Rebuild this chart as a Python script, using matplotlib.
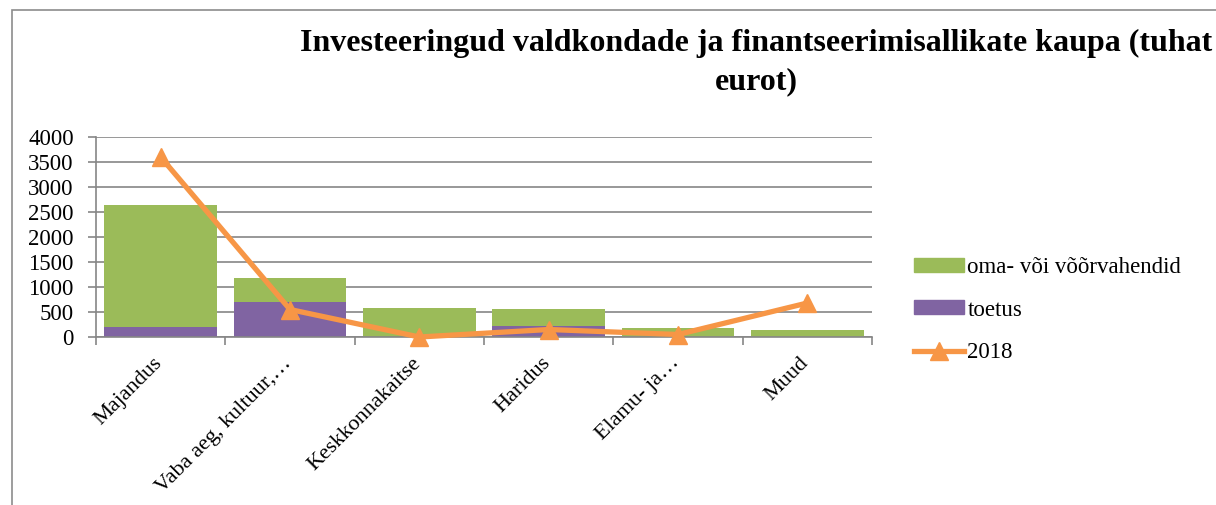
import matplotlib
matplotlib.use('Agg')
import matplotlib.pyplot as plt
import matplotlib.patches as mpatches
import matplotlib.transforms as mtransforms
from matplotlib.lines import Line2D
import numpy as np

categories = ['Majandus', 'Vaba aeg, kultuur,\u2026', 'Keskkonnakaitse', 'Haridus',
              'Elamu- ja\u2026', 'Muud']
toetus = [200, 700, 0, 220, 0, 0]
oma_voi_voor = [2450, 480, 590, 350, 190, 150]
line_2018 = [3600, 550, 0, 150, 50, 680]

green = '#9BBB59'
purple = '#8064A2'
orange = '#F79646'
grid_col = '#868686'

plt.rcParams['font.family'] = ['Liberation Serif', 'DejaVu Serif']

fig = plt.figure(figsize=(12.16, 5.05), dpi=100)

# outer chart frame (cut off at right/bottom like the source)
frame = mpatches.Rectangle((12 / 1216, -0.1), 1.2, (505 - 10) / 505 + 0.1,
                           transform=fig.transFigure, fill=False,
                           edgecolor='#8c8c8c', linewidth=1.2)
fig.patches.append(frame)

ax = fig.add_axes([96 / 1216, (505 - 337) / 505, 776 / 1216, 200 / 505])

x = np.arange(len(categories))
ax.bar(x, toetus, width=0.87, color=purple, label='toetus', zorder=2)
ax.bar(x, oma_voi_voor, width=0.87, bottom=toetus, color=green,
       label='oma- või võõrvahendid', zorder=2)
ax.plot(x, line_2018, color=orange, linewidth=3.8, marker='^', markersize=13,
        label='2018', zorder=3, clip_on=False)

ax.set_xlim(-0.5, len(categories) - 0.5)
ax.set_ylim(0, 4000)
ax.set_yticks(range(0, 4001, 500))
ax.yaxis.grid(True, color=grid_col, linewidth=1.2, zorder=0)
ax.set_axisbelow(True)

for s in ['top', 'right']:
    ax.spines[s].set_visible(False)
for s in ['left', 'bottom']:
    ax.spines[s].set_color(grid_col)
    ax.spines[s].set_linewidth(1.2)

ax.tick_params(axis='y', length=6, color=grid_col, width=1.2, labelsize=16.5, pad=10)
ax.set_xticks(x)
ax.set_xticklabels(categories, rotation=45, ha='right', rotation_mode='anchor',
                   fontsize=16)
ax.tick_params(axis='x', which='major', length=0, pad=12)
ax.set_xticks(np.arange(-0.5, len(categories), 1.0), minor=True)
ax.tick_params(axis='x', which='minor', length=6, color=grid_col, width=1.2)
offset = mtransforms.ScaledTranslation(-0.08, 0, fig.dpi_scale_trans)
for lab in ax.get_xticklabels():
    lab.set_transform(lab.get_transform() + offset)

fig.text(756 / 1216, 1 - 29 / 505,
         'Investeeringud valdkondade ja finantseerimisallikate kaupa (tuhat\neurot)',
         ha='center', va='top', fontsize=23, fontweight='bold', linespacing=1.4)

handles = [mpatches.Patch(color=green), mpatches.Patch(color=purple),
           Line2D([0], [0], color=orange, linewidth=3.8, marker='^', markersize=13)]
labels = ['oma- või võõrvahendid', 'toetus', '2018']
fig.legend(handles, labels, loc='center left', bbox_to_anchor=(893 / 1216, 1 - 310 / 505),
           frameon=False, fontsize=16.5, handlelength=2.2, handleheight=0.55,
           labelspacing=0.95, handletextpad=0.15)

fig.savefig('out.png', dpi=100)
